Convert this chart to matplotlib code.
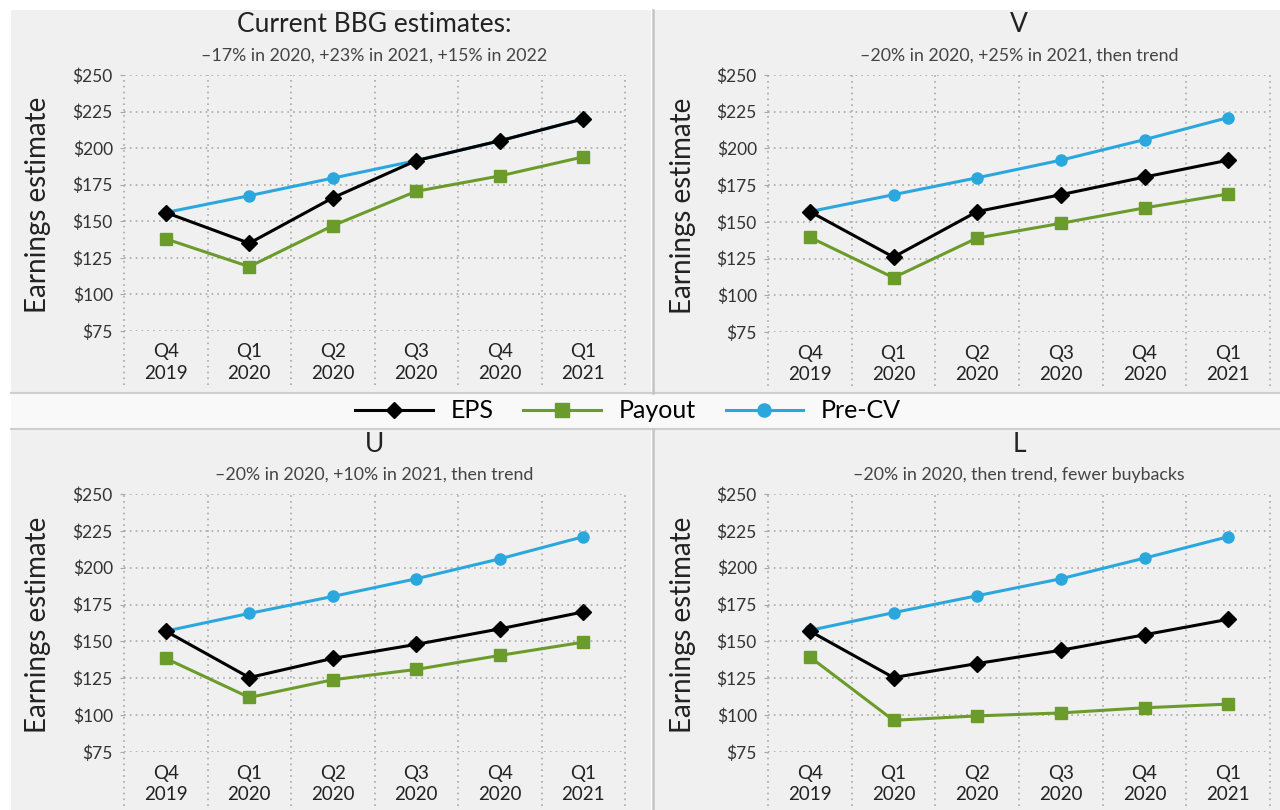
import numpy as np
import matplotlib.pyplot as plt
from matplotlib.patches import Rectangle
from matplotlib.lines import Line2D

plt.rcParams['font.family'] = ['Lato', 'DejaVu Sans']

# categories
quarters = ["Q4\n2019", "Q1\n2020", "Q2\n2020", "Q3\n2020", "Q4\n2020", "Q1\n2021"]
yticks = [75, 100, 125, 150, 175, 200, 225, 250]

# panel: current BBG estimates
bbg_eps = [156, 135, 166, 191.5, 205, 220]
bbg_payout = [138, 119, 147, 170.5, 181, 194]
bbg_precv = [156, 167.5, 179.5, 191.5, 205, 220]

# panel: V
v_eps = [157, 126, 157, 168.5, 180.5, 192]
v_payout = [139.5, 112, 139, 149, 159.5, 169]
v_precv = [157, 168.5, 180, 192, 206, 221]

# panel: U
u_eps = [157, 125.5, 138.5, 148, 158.5, 170]
u_payout = [138.5, 112, 124, 131, 140.5, 149.5]
u_precv = [157, 169, 180.5, 192.5, 206, 221]

# panel: L
l_eps = [157, 125.5, 135, 144, 154.5, 165]
l_payout = [139.5, 96.5, 99.5, 101.5, 105, 107.5]
l_precv = [157.5, 169.5, 181, 192.5, 206.5, 221]

titles = ["Current BBG estimates:", "V", "U", "L"]
subtitles = ["\u201317% in 2020, +23% in 2021, +15% in 2022",
             "\u201320% in 2020, +25% in 2021, then trend",
             "\u201320% in 2020, +10% in 2021, then trend",
             "\u201320% in 2020, then trend, fewer buybacks"]

C_EPS = "#000000"
C_PAY = "#6b9b2b"
C_PRE = "#2aa8de"
GRID = "#a8a8a8"
PANEL = "#f0f0f0"

W, H = 1280, 810
fig = plt.figure(figsize=(W / 100, H / 100), dpi=100)
fig.patch.set_facecolor("white")


def px_rect(x0, y0, x1, y1, **kw):
    # rectangle given in pixel coords (top-left origin)
    return Rectangle((x0 / W, 1 - y1 / H), (x1 - x0) / W, (y1 - y0) / H,
                     transform=fig.transFigure, **kw)


# gray panels and legend strip
for box in [(11, 10, 651, 392), (654, 10, 1280, 392),
            (11, 430, 651, 810), (654, 430, 1280, 810)]:
    fig.patches.append(px_rect(*box, facecolor=PANEL, edgecolor="none", zorder=-2))
fig.patches.append(px_rect(11, 394, 1280, 428, facecolor="#f9f9f9", edgecolor="none", zorder=-2))
for y in (393, 429):
    fig.lines.append(Line2D([11 / W, 1], [1 - y / H] * 2, transform=fig.transFigure,
                            color="#cfcfcf", lw=1.5, zorder=-1))
for (ya, yb) in ((10, 393), (429, 810)):
    fig.lines.append(Line2D([652.5 / W] * 2, [1 - ya / H, 1 - yb / H], transform=fig.transFigure,
                            color="#c4c4c4", lw=1.8, zorder=-1))

# axes boxes in pixels: left, right, top, bottom
boxes = [(124, 625, 75, 331), (768, 1270, 75, 332),
         (124, 625, 494, 752), (768, 1270, 494, 752)]
data = [(bbg_eps, bbg_payout, bbg_precv), (v_eps, v_payout, v_precv),
        (u_eps, u_payout, u_precv), (l_eps, l_payout, l_precv)]
ylabel_x = [38, 683, 38, 683]

x = np.arange(len(quarters))
for i, ((l, r, t, b), (eps, pay, pre)) in enumerate(zip(boxes, data)):
    ax = fig.add_axes([l / W, 1 - b / H, (r - l) / W, (b - t) / H])
    ax.set_facecolor("none")
    ax.set_xlim(-0.5, len(quarters) - 0.5)
    ax.set_ylim(75, 250)
    for s in ax.spines.values():
        s.set_visible(False)
    ax.set_yticks(yticks)
    ax.set_yticklabels(["$%d" % v for v in yticks])
    ax.set_xticks(x)
    ax.set_xticklabels(quarters, linespacing=1.3)
    ax.tick_params(axis="y", length=3, width=0.8, color=GRID, pad=5,
                   labelsize=12.5, labelcolor="#333333")
    ax.tick_params(axis="x", length=0, pad=9, labelsize=13.5, labelcolor="#222222")
    ax.yaxis.grid(True, linestyle=(0, (1, 2.5)), color=GRID, lw=1.2)
    ax.vlines(np.arange(-0.5, len(quarters)), -0.21, 1, transform=ax.get_xaxis_transform(),
              colors=GRID, linestyles=[(0, (1, 2.5))], lw=1.2, clip_on=False, zorder=1)
    ax.set_axisbelow(True)

    ax.plot(x, pre, color=C_PRE, lw=2.2, marker="o", ms=8, zorder=3, label="Pre-CV")
    ax.plot(x, pay, color=C_PAY, lw=2.2, marker="s", ms=8.5, zorder=4, label="Payout")
    ax.plot(x, eps, color=C_EPS, lw=2.2, marker="D", ms=8, zorder=5, label="EPS")

    cx = (l + r) / 2
    fig.text(cx / W, 1 - (t - 50) / H, titles[i], ha="center", va="center",
             fontsize=19, color="#222222")
    fig.text(cx / W, 1 - (t - 19) / H, subtitles[i], ha="center", va="center",
             fontsize=12.8, color="#444444")
    fig.text(ylabel_x[i] / W, 1 - ((t + b) / 2 + 2) / H, "Earnings estimate", rotation=90,
             ha="center", va="center", fontsize=20, color="#222222")

handles = [Line2D([], [], color=C_EPS, lw=2.2, marker="D", ms=8.5),
           Line2D([], [], color=C_PAY, lw=2.2, marker="s", ms=9.5),
           Line2D([], [], color=C_PRE, lw=2.2, marker="o", ms=9.5)]
fig.legend(handles, ["EPS", "Payout", "Pre-CV"], loc="center",
           bbox_to_anchor=(628 / W, 1 - 411 / H), ncol=3, frameon=False,
           fontsize=18, handlelength=3.1, columnspacing=1.2, handletextpad=0.7)

fig.savefig("out.png", dpi=100)
